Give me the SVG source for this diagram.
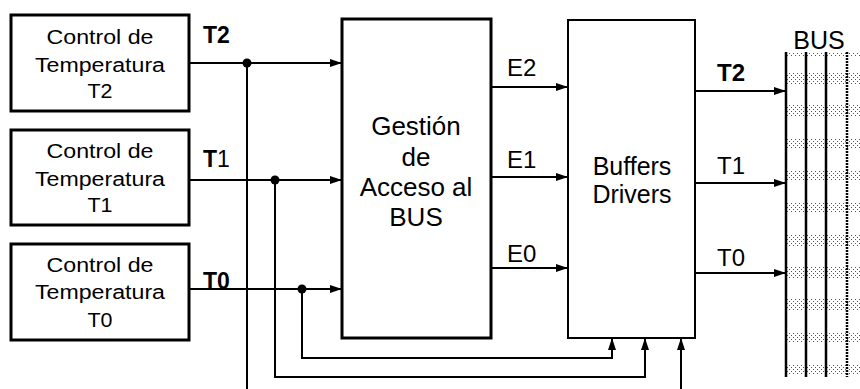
<svg xmlns="http://www.w3.org/2000/svg" width="860" height="389" viewBox="0 0 860 389">
<defs>
<style>
.box{fill:#fff;stroke:#000;stroke-width:3}
.box2{fill:#fff;stroke:#000;stroke-width:2}
.ln{fill:none;stroke:#000;stroke-width:2}
.bt{font-family:"Liberation Sans",Arial,sans-serif;font-size:20px;text-anchor:middle;fill:#000}
.mt{font-family:"Liberation Sans",Arial,sans-serif;font-size:26px;text-anchor:middle;fill:#000}
.lb{font-family:"Liberation Sans",Arial,sans-serif;font-size:23px;font-weight:bold;fill:#000}
.lr{font-family:"Liberation Sans",Arial,sans-serif;font-size:24px;fill:#000}
.bus{stroke:#000;stroke-width:2.5}
</style>
<marker id="ar" markerUnits="userSpaceOnUse" markerWidth="13" markerHeight="9" refX="12" refY="4.5" orient="auto">
<path d="M0,0.5 L12,4.5 L0,8.5 z" fill="#000"/>
</marker>
<pattern id="dots" patternUnits="userSpaceOnUse" width="4" height="4">
<rect x="1" y="1" width="1" height="1" fill="#555"/>
<rect x="3" y="3" width="1" height="1" fill="#555"/>
</pattern>
</defs>

<g id="ctrl2">
<rect class="box" x="11" y="15" width="178" height="96"/>
<text class="bt" x="100" y="44" textLength="107" lengthAdjust="spacingAndGlyphs">Control de</text>
<text class="bt" x="100" y="72" textLength="130" lengthAdjust="spacingAndGlyphs">Temperatura</text>
<text class="bt" x="100" y="98" textLength="25" lengthAdjust="spacingAndGlyphs">T2</text>
</g>
<g id="ctrl1">
<rect class="box" x="11" y="130" width="178" height="95"/>
<text class="bt" x="100" y="158" textLength="107" lengthAdjust="spacingAndGlyphs">Control de</text>
<text class="bt" x="100" y="186" textLength="130" lengthAdjust="spacingAndGlyphs">Temperatura</text>
<text class="bt" x="100" y="212" textLength="25" lengthAdjust="spacingAndGlyphs">T1</text>
</g>
<g id="ctrl0">
<rect class="box" x="11" y="244" width="178" height="96"/>
<text class="bt" x="100" y="272" textLength="107" lengthAdjust="spacingAndGlyphs">Control de</text>
<text class="bt" x="100" y="299" textLength="130" lengthAdjust="spacingAndGlyphs">Temperatura</text>
<text class="bt" x="100" y="327" textLength="25" lengthAdjust="spacingAndGlyphs">T0</text>
</g>

<g id="gestion">
<rect class="box" x="342" y="19" width="149" height="319"/>
<text class="mt" x="416" y="135">Gestión</text>
<text class="mt" x="416" y="166">de</text>
<text class="mt" x="416" y="196">Acceso al</text>
<text class="mt" x="416" y="226">BUS</text>
</g>

<g id="buffers">
<rect class="box2" x="568" y="20" width="127" height="318"/>
<text class="mt" x="632" y="175" style="font-size:25px">Buffers</text>
<text class="mt" x="632" y="203" style="font-size:25px">Drivers</text>
</g>

<g id="bus">
<rect x="787" y="52" width="73" height="5" fill="url(#dots)"/>
<rect x="787" y="73" width="73" height="11" fill="url(#dots)"/>
<rect x="787" y="105" width="73" height="11" fill="url(#dots)"/>
<rect x="787" y="138" width="73" height="11" fill="url(#dots)"/>
<rect x="787" y="170" width="73" height="11" fill="url(#dots)"/>
<rect x="787" y="202" width="73" height="11" fill="url(#dots)"/>
<rect x="787" y="235" width="73" height="11" fill="url(#dots)"/>
<rect x="787" y="267" width="73" height="11" fill="url(#dots)"/>
<rect x="787" y="299" width="73" height="11" fill="url(#dots)"/>
<rect x="787" y="332" width="73" height="11" fill="url(#dots)"/>
<rect x="787" y="364" width="73" height="11" fill="url(#dots)"/>
<line class="bus" x1="786" y1="52" x2="786" y2="377"/>
<line class="bus" x1="806" y1="52" x2="806" y2="377"/>
<line class="bus" x1="826" y1="52" x2="826" y2="377"/>
<line class="bus" x1="847" y1="52" x2="847" y2="377" stroke-dasharray="2,1"/>
<text class="lr" x="819" y="49" text-anchor="middle" style="font-size:25px">BUS</text>
</g>

<g id="connectors">
<line class="ln" x1="189" y1="63" x2="342" y2="63" marker-end="url(#ar)"/>
<line class="ln" x1="189" y1="180" x2="342" y2="180" marker-end="url(#ar)"/>
<line class="ln" x1="189" y1="289" x2="342" y2="289" marker-end="url(#ar)"/>
<line class="ln" x1="247" y1="63" x2="247" y2="389"/>
<polyline class="ln" points="275,180 275,377 645,377 645,338" marker-end="url(#ar)"/>
<polyline class="ln" points="302,289 302,358 612,358 612,338" marker-end="url(#ar)"/>
<line class="ln" x1="681" y1="389" x2="681" y2="338" marker-end="url(#ar)"/>
<circle cx="247" cy="63" r="4.5"/>
<circle cx="275" cy="180" r="4.5"/>
<circle cx="302" cy="289" r="4.5"/>
<line class="ln" x1="491" y1="87" x2="568" y2="87" marker-end="url(#ar)"/>
<line class="ln" x1="491" y1="177" x2="568" y2="177" marker-end="url(#ar)"/>
<line class="ln" x1="491" y1="268" x2="568" y2="268" marker-end="url(#ar)"/>
<line class="ln" x1="695" y1="91" x2="786" y2="91" marker-end="url(#ar)"/>
<line class="ln" x1="695" y1="183" x2="786" y2="183" marker-end="url(#ar)"/>
<line class="ln" x1="695" y1="273" x2="786" y2="273" marker-end="url(#ar)"/>
<text class="lb" x="203" y="43">T2</text>
<text class="lb" x="203" y="167">T<tspan font-weight="normal">1</tspan></text>
<text class="lb" x="203" y="289">T0</text>
<text class="lr" x="507" y="76">E2</text>
<text class="lr" x="507" y="168">E1</text>
<text class="lr" x="507" y="262">E0</text>
<text class="lb" x="717" y="81" style="font-size:24px">T2</text>
<text class="lr" x="717" y="174">T1</text>
<text class="lr" x="717" y="266">T0</text>
</g>
</svg>
